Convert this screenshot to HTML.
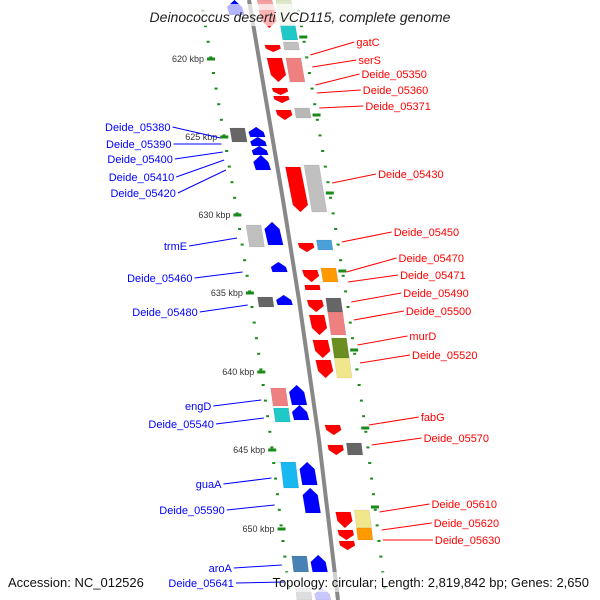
<!DOCTYPE html>
<html><head><meta charset="utf-8"><style>
html,body{margin:0;padding:0;background:#fff;width:600px;height:600px;overflow:hidden}
svg{display:block}
text{font-family:"Liberation Sans","DejaVu Sans",sans-serif}
</style></head><body>
<svg id="map" width="600" height="600" viewBox="0 0 600 600" xmlns="http://www.w3.org/2000/svg">
<g id="rings"></g>
<path id="backbone" fill="none" stroke="#888" stroke-width="4"/>
<g id="feats"></g>
<rect x="0" y="572" width="600" height="20" fill="#fff" opacity="0.6"/>
<rect x="130" y="4" width="340" height="22" fill="#fff" opacity="0.7"/>
<g id="labels"></g>
<text x="300" y="22" text-anchor="middle" font-size="14" font-style="italic" fill="#222">Deinococcus deserti VCD115, complete genome</text>
<text x="8" y="587" font-size="13" fill="#111">Accession: NC_012526</text>
<text x="589" y="587" text-anchor="end" font-size="13" fill="#111">Topology: circular; Length: 2,819,842 bp; Genes: 2,650</text>
</svg>
<script>
// backbone control points (y -> x)
const bbY=[0,200,300,440,600], bbX=[249,283,299,319,338];
// features: start y, end y, lane, color
const featStart=[0,10,45,58,88,96,110,167,243,270,285,300,315,340,360,425,445,512,530,541,
 0,25,42,58,108,165,240,268,298,312,338,358,443,510,528,
 0,127,137,146,155,222,262,295,385,405,462,488,555,588,
 128,225,297,388,408,462,556,588];
const featEnd=[20,28,52,82,95,103,120,212,252,282,290,312,335,358,378,435,455,528,540,550,
 25,40,50,82,118,212,250,282,312,335,358,378,455,528,540,
 15,137,146,155,170,245,272,305,405,420,485,513,572,600,
 142,247,307,406,422,488,572,600];
const featLane=[1,1,1,1,1,1,1,1,1,1,1,1,1,1,1,1,1,1,1,1,
 2,2,2,2,2,2,2,2,2,2,2,2,2,2,2,
 -1,-1,-1,-1,-1,-1,-1,-1,-1,-1,-1,-1,-1,-1,
 -2,-2,-2,-2,-2,-2,-2,-2];
const featColor=['#f4a0a0','#f00','#f00','#f00','#f00','#f00','#f00','#f00','#f00','#f00','#f00','#f00','#f00','#f00','#f00','#f00','#f00','#f00','#f00','#f00',
 '#dde8c8','#20c8c8','#c0c0c0','#ef8080','#b8b8b8','#c0c0c0','#4aa0d8','#f90','#666','#ef8080','#6b8e23','#f0e68c','#666','#f0e68c','#f90',
 '#00f','#00f','#00f','#00f','#00f','#00f','#00f','#00f','#00f','#00f','#00f','#00f','#00f','#c8c8ff',
 '#666','#c0c0c0','#666','#ef8080','#20c8c8','#1ab8f0','#4682b4','#ddd'];
const rightLabels=['gatC','serS','Deide_05350','Deide_05360','Deide_05371','Deide_05430','Deide_05450','Deide_05470','Deide_05471','Deide_05490','Deide_05500','murD','Deide_05520','fabG','Deide_05570','Deide_05610','Deide_05620','Deide_05630'];
const rightLabelY=[42,60,74,90,106,174,232,258,275,293,311,336,355,417,438,504,523,540];
const rightFeatY=[55,67,85,93,108,183,242,272,282,302,320,345,363,425,445,512,530,540];
const leftLabels=['Deide_05380','Deide_05390','Deide_05400','Deide_05410','Deide_05420','trmE','Deide_05460','Deide_05480','engD','Deide_05540','guaA','Deide_05590','aroA','Deide_05641'];
const leftLabelY=[127,144,159,177,193,246,278,312,406,424,484,510,568,583];
const leftFeatY=[138,144,152,160,170,238,272,305,400,418,478,505,565,582];
const kbpLabels=['620 kbp','625 kbp','630 kbp','635 kbp','640 kbp','645 kbp','650 kbp'];
const kbpY=[59,137,215,293,372,450,529];

function bb(y){for(let i=0;i<bbY.length-1;i++){if(y<=bbY[i+1]||i==bbY.length-2){const t=(y-bbY[i])/(bbY[i+1]-bbY[i]);return bbX[i]+t*(bbX[i+1]-bbX[i]);}}}
const NS='http://www.w3.org/2000/svg';
function mk(tag,attrs,parent){const e=document.createElementNS(NS,tag);for(const k in attrs)e.setAttribute(k,attrs[k]);parent.appendChild(e);return e;}
document.getElementById('backbone').setAttribute('d','M'+bbY.map((y,i)=>bbX[i]+','+y).join(' L'));
const laneOff={1:[8,23],2:[27,42],'-1':[-22,-7],'-2':[-41,-26]};
const fg=document.getElementById('feats');
for(let i=0;i<featStart.length;i++){
  const y0=featStart[i],y1=featEnd[i],L=featLane[i],o=laneOff[L];
  const a=bb(y0),b=bb(y1);let pts;
  const arrow=(L==1||L==-1)&&y1-y0>6;const tip=Math.min(7,(y1-y0)/2);
  if(arrow&&L==1){const m=(o[0]+o[1])/2;pts=[[a+o[0],y0],[a+o[1],y0],[b+o[1],y1-tip],[b+m,y1],[b+o[0],y1-tip]];}
  else if(arrow&&L==-1){const m=(o[0]+o[1])/2;pts=[[a+m,y0],[a+o[1],y0+tip],[b+o[1],y1],[b+o[0],y1],[a+o[0],y0+tip]];}
  else pts=[[a+o[0],y0],[a+o[1],y0],[b+o[1],y1],[b+o[0],y1]];
  const p=mk('polygon',{points:pts.map(q=>q.join(',')).join(' '),fill:featColor[i],stroke:'rgba(0,0,0,0.12)','stroke-width':0.5},fg);
  
  
}
const rg=document.getElementById('rings');
for(let y=-5;y<=600;y+=15.6){
  for(const side of [-1,1]){
    const off=side<0?-48:48;const x=bb(y)+off;
    const d=mk('rect',{x:x-1.5,y:y-1,width:3,height:2,fill:'#1a8a1a'},rg);
    
    
  }
}
for(let k=0;k<kbpY.length;k++){
  const y=kbpY[k],x=bb(y)-48;
  const t=mk('rect',{x:x-4,y:y-1.5,width:8,height:3,fill:'#1a8a1a'},rg);
  
  
  const tx=mk('text',{x:x-7,y:y+3,'font-size':9,fill:'#333','text-anchor':'end'},rg);
  tx.textContent=kbpLabels[k];
  
  
  const y2=y-22,x2=bb(y2)+48;
  const t2=mk('rect',{x:x2-4,y:y2-1.5,width:8,height:3,fill:'#1a8a1a'},rg);
  
  
}
const lg=document.getElementById('labels');
for(let i=0;i<rightLabels.length;i++){
  const fy=rightFeatY[i],ly=rightLabelY[i];const x1=bb(fy)+50;const lx=x1+46+ (i<6?0:6);
  const ln=mk('line',{x1:x1+2,y1:fy,x2:lx,y2:ly,stroke:'#f00','stroke-width':1},lg);
  
  
  const t=mk('text',{x:lx+2,y:ly+4,'font-size':11,fill:'#f00'},lg);
  t.textContent=rightLabels[i];
  
  
}
for(let i=0;i<leftLabels.length;i++){
  const fy=leftFeatY[i],ly=leftLabelY[i];const x1=bb(fy)-52;const lx=x1-48;
  const ln=mk('line',{x1:x1,y1:fy,x2:lx,y2:ly,stroke:'#00f','stroke-width':1},lg);
  
  
  const t=mk('text',{x:lx-2,y:ly+4,'font-size':11,fill:'#00f','text-anchor':'end'},lg);
  t.textContent=leftLabels[i];
  
  
}
</script>
</body></html>
